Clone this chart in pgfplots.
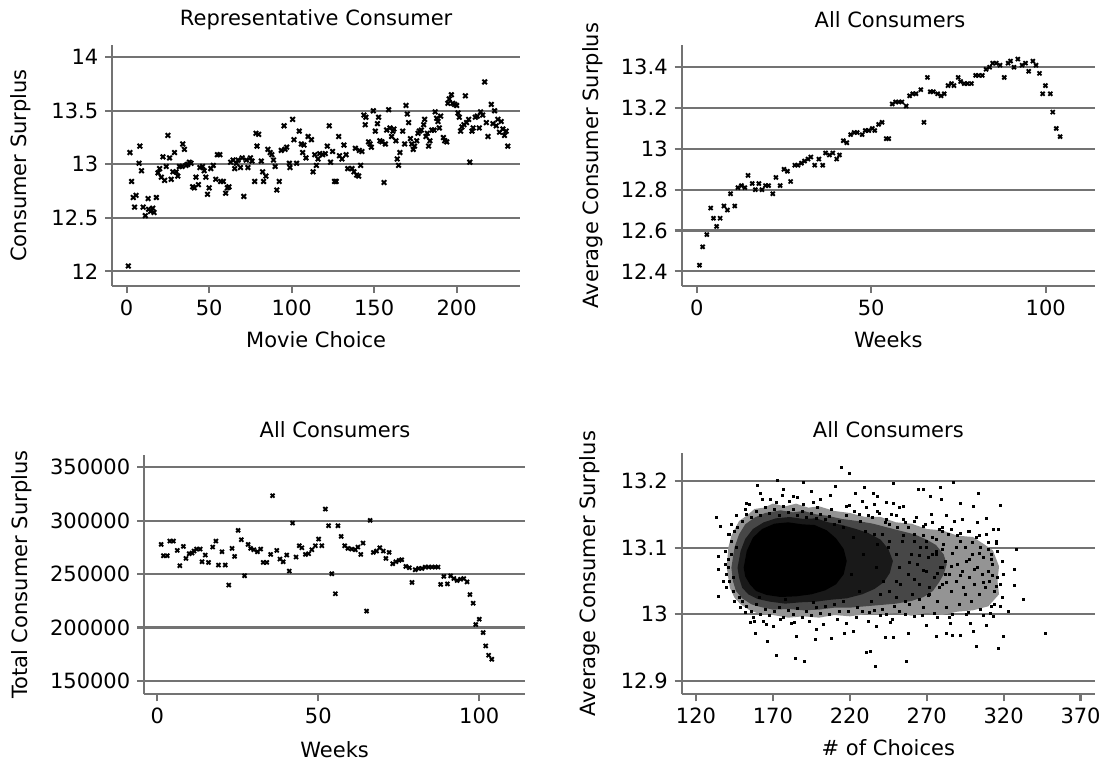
\documentclass[border=0pt]{standalone}
\usepackage{fontspec}
\setmainfont{DejaVu Sans}
\usepackage{pgfplots}
\pgfplotsset{compat=1.18}
\definecolor{axgray}{gray}{0.45}
\pgfplotsset{
  stata/.style={
    scale only axis,
    axis x line*=bottom, axis y line*=left,
    axis line style={-, axgray, line width=1.1pt},
    ymajorgrids, grid style={axgray, line width=1.1pt},
    tick align=outside, major tick length=3.5pt,
    major tick style={axgray, line width=1.1pt},
    scaled ticks=false,
    tick label style={font=\fontsize{10.5}{12}\selectfont, black},
    label style={font=\fontsize{10.5}{12}\selectfont},
    title style={font=\fontsize{10.5}{12}\selectfont, anchor=center, yshift=-6pt},
    xlabel style={anchor=center},
    ylabel style={anchor=center},
    anchor=south west,
  },
  xmk/.style={only marks, mark=x, mark size=1.6pt, mark options={line width=1pt, black}},
  xmks/.style={only marks, mark=x, mark size=1.4pt, mark options={line width=0.95pt, black}},
}
\begin{document}
\begin{tikzpicture}
\path[use as bounding box] (0,0) rectangle (554.5pt,383.5pt);
% Panel 1
\begin{axis}[stata, at={(56.15pt,240.5pt)}, width=203.85pt, height=120.5pt,
  xmin=-8.7, xmax=238.4, ymin=11.863, ymax=14.115,
  xtick={0,50,100,150,200}, xticklabels={0,50,100,150,200},
  ytick={12,12.5,13,13.5,14}, yticklabels={12,12.5,13,13.5,14},
  title={Representative Consumer}, title style={at={(axis description cs:0.5,1.104)}},
  xlabel={Movie Choice}, xlabel style={at={(axis description cs:0.5,-0.224)}},
  ylabel={Consumer Surplus}, ylabel style={at={(axis description cs:-0.225,0.5)}}]
\addplot[xmk] coordinates {
(1,12.05)(2,13.11)(3,12.84)(4,12.69)(4.8,12.60)(5.7,12.71)(7.5,13.01)(8,13.17)(9,12.94)(10,12.60)
(11.3,12.52)(13,12.68)(13.3,12.58)(14.5,12.56)(15.8,12.59)(16.6,12.55)(18,12.69)(19,12.92)(20,12.96)(21,12.88)
(22,13.07)(23,12.85)(24,12.98)(25,13.27)(26,13.06)(27,12.86)(28,12.93)(29,13.11)(30,12.93)(31,12.89)
(32,12.98)(33.5,12.98)(34,13.19)(35,13.14)(36,12.99)(37,13.00)(38,13.02)(39,13.01)(40,12.79)(41,12.78)
(42,12.88)(43.5,12.81)(44.4,12.97)(46,12.98)(47,12.94)(48,12.88)(49,12.72)(50,12.78)(51,12.96)(52.5,12.99)
(54,12.86)(55,13.09)(56.5,13.09)(57,12.84)(58.6,12.84)(60,12.73)(61,12.78)(62,12.79)(63,13.02)(64.5,13.04)
(65.5,12.96)(66.5,13.01)(67.5,13.04)(69,12.97)(70,13.06)(71,12.70)(72.5,13.04)(73.5,12.97)(75,13.06)(76,13.03)
(77.6,12.84)(78.4,13.29)(79,13.17)(80,13.28)(81.6,13.03)(82.4,12.93)(83,12.84)(84.4,12.89)(85.6,13.14)(87,13.11)
(88,13.09)(89,13.04)(90,12.98)(91,12.76)(92.5,12.84)(93.7,13.13)(95.4,13.36)(96,13.14)(97,13.16)(98.6,13.01)
(99,12.97)(100.6,13.42)(101.4,13.23)(103,13.01)(104.6,13.31)(105.9,13.19)(106.7,13.11)(107.5,13.18)(108.7,13.06)(110,13.26)
(112,13.23)(113,12.93)(114,13.09)(115,12.99)(116,13.05)(117,13.10)(118.8,13.09)(120.4,13.10)(121.6,13.17)(122.8,13.36)
(123.6,13.02)(124.8,13.12)(126,12.84)(127,12.84)(128.5,13.26)(129,13.08)(130.5,13.05)(131.7,13.18)(133,13.09)(134,12.96)
(136.6,12.96)(137.8,12.93)(138.6,13.15)(139.4,12.90)(140.6,12.89)(141,13.13)(141.8,12.99)(142.6,13.12)(143.8,13.46)(144.6,13.37)
(145,13.44)(146.6,13.21)(147.5,13.19)(148.3,13.16)(149.5,13.50)(150.7,13.31)(152,13.38)(152.7,13.44)(153.5,13.22)(154.7,13.21)
(156,12.83)(156.8,13.19)(157.6,13.32)(158.8,13.51)(159.6,13.34)(160.6,13.26)(161.4,13.31)(162,13.33)(163.2,13.22)(164,13.05)
(164.8,12.99)(165.6,13.11)(167.3,13.31)(168.5,13.19)(169.3,13.55)(170.1,13.47)(170.9,13.39)(172,13.24)(172.8,13.19)(173.7,13.14)
(174.5,13.17)(175.8,13.22)(176.6,13.29)(177.4,13.31)(178.6,13.32)(180,13.37)(180.6,13.42)(181.4,13.26)(182.2,13.29)(183,13.17)
(183.8,13.22)(185,13.32)(186.3,13.32)(187,13.49)(187.9,13.43)(188.7,13.40)(189.5,13.34)(190.3,13.45)(192,13.25)(192.8,13.22)
(194,13.21)(194.7,13.57)(195.5,13.61)(196.8,13.65)(197.6,13.57)(198.8,13.56)(200,13.55)(200.8,13.48)(201.6,13.44)(202.4,13.31)
(203.2,13.35)(204.4,13.37)(205.3,13.64)(206,13.39)(207.3,13.42)(208,13.02)(209.3,13.31)(210,13.34)(211.3,13.44)(212.5,13.45)
(213.7,13.34)(214.5,13.49)(215.8,13.46)(217,13.77)(218,13.39)(219,13.26)(221,13.56)(222,13.38)(223,13.50)(224,13.36)
(225,13.42)(226,13.30)(227,13.40)(228,13.33)(229,13.27)(230,13.31)(231,13.17)
};
\end{axis}
% Panel 2
\begin{axis}[stata, at={(340.85pt,240.5pt)}, width=206.65pt, height=120.5pt,
  xmin=-4.3, xmax=114.1, ymin=12.328, ymax=13.509,
  xtick={0,50,100}, xticklabels={0,50,100},
  ytick={12.4,12.6,12.8,13,13.2,13.4}, yticklabels={12.4,12.6,12.8,13,13.2,13.4},
  title={All Consumers}, title style={at={(axis description cs:0.504,1.104)}},
  xlabel={Weeks}, xlabel style={at={(axis description cs:0.5,-0.224)}},
  ylabel={Average Consumer Surplus}, ylabel style={at={(axis description cs:-0.2146,0.5)}}]
\addplot[xmks] coordinates {
(0.8,12.43)(1.7,12.52)(2.9,12.58)(4,12.71)(4.8,12.66)(5.7,12.62)(6.7,12.66)(7.8,12.72)(8.8,12.70)(9.7,12.78)
(10.9,12.72)(11.8,12.81)(12.8,12.82)(13.8,12.81)(14.7,12.87)(15.9,12.83)(16.8,12.80)(17.8,12.83)(18.7,12.80)(19.7,12.82)
(20.6,12.82)(21.8,12.78)(22.7,12.86)(23.9,12.82)(25,12.90)(26,12.89)(26.9,12.84)(28.1,12.92)(29,12.92)(30,12.93)
(30.9,12.94)(31.9,12.95)(32.7,12.96)(33.8,12.92)(35,12.95)(36.1,12.92)(36.9,12.98)(38,12.97)(39,12.98)(40.1,12.95)
(40.9,12.97)(42,13.04)(43,13.03)(44.1,13.07)(45.1,13.08)(46,13.08)(47.4,13.07)(48.3,13.09)(49.3,13.09)(50.3,13.10)
(51,13.09)(52.1,13.12)(53.1,13.13)(54.3,13.05)(55,13.05)(56,13.22)(57,13.23)(57.9,13.23)(58.8,13.23)(60,13.21)
(61,13.26)(61.9,13.27)(62.8,13.27)(64.2,13.29)(65.1,13.13)(66.1,13.35)(66.9,13.28)(67.8,13.28)(69,13.27)(70,13.26)
(70.9,13.27)(72,13.31)(73,13.32)(73.7,13.31)(74.9,13.35)(75.6,13.33)(76.6,13.32)(77.6,13.32)(78.7,13.32)(79.9,13.36)
(80.8,13.36)(81.8,13.36)(82.9,13.39)(83.9,13.40)(84.8,13.42)(85.8,13.42)(86.9,13.41)(88.1,13.35)(89.2,13.42)(89.9,13.43)
(90.9,13.40)(92,13.44)(93.2,13.41)(94.2,13.42)(95.1,13.38)(96.3,13.43)(97.2,13.41)(98.2,13.37)(99.1,13.27)(99.9,13.31)
(101.3,13.27)(102,13.18)(103,13.10)(104.1,13.06)
};
\end{axis}
% Panel 3
\begin{axis}[stata, at={(72.15pt,36.35pt)}, width=190.35pt, height=119.65pt,
  xmin=-4.04, xmax=114.2, ymin=137550, ymax=361510,
  xtick={0,50,100}, xticklabels={0,50,100},
  ytick={150000,200000,250000,300000,350000}, yticklabels={150000,200000,250000,300000,350000},
  title={All Consumers}, title style={at={(axis description cs:0.501,1.1045)}},
  xlabel={Weeks}, xlabel style={at={(axis description cs:0.5,-0.233)}},
  ylabel={Total Consumer Surplus}, ylabel style={at={(axis description cs:-0.3213,0.5)}}]
\addplot[xmks] coordinates {
(1.2,277840)(1.9,267230)(3.1,267230)(3.9,280960)(5,280960)(6.2,272220)(7,257870)(8.1,275970)(8.9,264730)(9.9,269100)
(10.8,269730)(11.4,271600)(12.2,273470)(13.3,273470)(13.9,261610)(14.9,267850)(15.9,260990)(17.2,275340)(18.2,280960)(19,258490)
(20.1,270980)(21.1,258490)(22.2,239760)(23.2,274100)(24,266600)(25.1,290950)(26.1,282210)(27.1,248500)(28.2,277840)(29,274100)
(30,272850)(31.1,270980)(32.1,273470)(32.9,260990)(34,260990)(35.2,268480)(35.8,323410)(37.1,272220)(38.1,264110)(39.1,261610)
(40.2,267850)(41,252870)(42,297820)(43.1,265980)(44.1,276590)(44.9,274720)(46,268480)(47,269100)(48,272850)(49.1,276590)
(50.1,282830)(51.1,276590)(52.2,310920)(53.2,295320)(54.2,250380)(55.3,231650)(56.1,295320)(57.1,285330)(58.2,276590)(59.2,274100)
(60.4,273470)(61.5,272850)(62.3,275340)(63.2,268480)(63.9,279090)(65,215420)(66.1,300310)(67.1,270350)(68.1,271600)(69.1,274720)
(70.2,271600)(71,264730)(72,270350)(73.1,259740)(74.1,261610)(75.1,262860)(75.9,263480)(77.2,257240)(78.3,256000)(79.1,242260)
(80.1,254120)(81.2,255370)(82.2,255370)(83.2,256620)(84.3,256620)(85.3,256620)(86.3,256620)(87.2,256620)(88,240390)(89,247880)
(90.1,240890)(91.1,248380)(92.1,245890)(93.1,244010)(94.2,245260)(95.2,245890)(96.2,242760)(97.1,230910)(98.1,222790)(98.9,202820)
(100,207810)(101.2,195330)(102,182840)(102.9,174100)(103.9,170360)
};
\end{axis}
% Panel 4
\begin{axis}[stata, at={(340.85pt,36.35pt)}, width=206.65pt, height=120.65pt,
  xmin=110.7, xmax=379.4, ymin=12.88, ymax=13.242,
  xtick={120,170,220,270,320,370}, xticklabels={120,170,220,270,320,370},
  ytick={12.9,13,13.1,13.2}, yticklabels={12.9,13,13.1,13.2},
  title={All Consumers}, title style={at={(axis description cs:0.5,1.0953)}},
  xlabel={\# of Choices}, xlabel style={at={(axis description cs:0.5,-0.2225)}},
  ylabel={Average Consumer Surplus}, ylabel style={at={(axis description cs:-0.2219,0.5)}}]
% density envelopes of the point cloud (outer to inner)
\addplot[draw=none, fill=black!42] coordinates {
(140,13.07)(141,13.1)(143,13.118)(148,13.14)(153,13.148)(158,13.158)(164,13.16)(170,13.166)(178,13.162)(185,13.166)
(193,13.16)(200,13.162)(210,13.155)(220,13.152)(230,13.146)(240,13.146)(250,13.138)(260,13.136)(270,13.128)(280,13.126)
(290,13.118)(300,13.116)(308,13.104)(313,13.096)(317,13.072)(316,13.05)(317,13.03)(310,13.012)(300,13.006)(290,13.004)
(280,12.999)(270,13.002)(260,12.998)(250,13.002)(240,13.0)(230,13.0)(220,12.997)(210,12.999)(200,12.995)(190,12.997)
(180,12.995)(170,12.999)(162,13.0)(155,13.006)(149,13.015)(145,13.025)(142,13.04)};
\addplot[draw=none, fill=black!72] coordinates {
(143,13.07)(145,13.1)(148,13.12)(152,13.135)(158,13.145)(165,13.152)(175,13.156)(183,13.153)(190,13.155)(198,13.15)
(205,13.148)(215,13.143)(225,13.14)(235,13.136)(245,13.13)(255,13.124)(262,13.12)(270,13.112)(276,13.104)(281,13.09)
(283,13.075)(281,13.06)(278,13.048)(274,13.035)(268,13.026)(260,13.02)(250,13.016)(240,13.014)(230,13.012)(220,13.01)
(210,13.01)(200,13.007)(190,13.006)(180,13.008)(170,13.007)(162,13.011)(156,13.015)(150,13.024)(146,13.035)(144,13.05)};
\addplot[draw=none, fill=black!90] coordinates {
(147,13.07)(149,13.095)(152,13.113)(157,13.128)(164,13.138)(172,13.144)(181,13.146)(190,13.143)(198,13.144)(206,13.138)
(215,13.134)(224,13.128)(232,13.122)(240,13.112)(245,13.098)(248,13.08)(246,13.062)(242,13.048)(236,13.038)(228,13.03)
(218,13.024)(208,13.022)(198,13.019)(188,13.018)(178,13.016)(168,13.019)(160,13.023)(154,13.03)(150,13.04)(148,13.055)};
\addplot[draw=none, fill=black] coordinates {
(151,13.07)(153,13.095)(157,13.115)(163,13.128)(171,13.136)(180,13.138)(189,13.135)(197,13.134)(205,13.126)(211,13.114)
(216,13.098)(218,13.08)(216,13.06)(211,13.045)(204,13.036)(195,13.03)(185,13.027)(175,13.026)(166,13.029)(159,13.035)
(155,13.045)(152,13.057)};
\addplot[only marks, mark=square*, mark size=0.5pt, black] coordinates {
(214.3,13.220)(219.5,13.211)(172.9,13.201)(189.8,13.198)(248.3,13.196)(287.3,13.198)(159.9,13.193)(229.7,13.191)(264.6,13.188)(278.6,13.191)
(303.6,13.181)(133.4,13.146)(136,13.132)(134.5,13.087)(134.7,13.067)(134.5,13.027)(328.5,13.097)(327.2,13.067)(326.8,13.044)(332.8,13.022)
(346.9,12.971)(317.7,13.164)(316.8,13.127)(319.8,12.967)(316.6,12.949)(302,12.952)(172.5,12.938)(184.6,12.934)(190.7,12.929)(236.6,12.922)
(256.5,12.929)(231,12.943)(233.6,12.944)(158.6,12.971)(166.4,12.960)(185.5,12.967)(197.6,12.962)(208,12.964)(216.2,12.971)(243.1,12.965)
(248.3,12.965)(258.3,12.972)(276.5,12.967)(291.6,12.969)(282.5,12.972)(286.9,12.969)(300.3,12.975)(155.1,12.988)(170.3,12.982)(182.2,12.987)
(198.5,12.977)(218,12.986)(222.3,12.974)(237.5,12.982)(246.1,12.988)(270,12.984)(285.2,12.986)(298.2,12.987)(309,12.983)(313.3,12.997)
(323.1,13.004)(235.3,13.182)(237.9,13.177)(248.3,13.167)(254.8,13.162)(267.8,13.187)(272.1,13.177)(279.7,13.172)(291.6,13.167)(300.3,13.162)
(309,13.144)(313.3,13.127)(315.5,13.107)(312.2,13.082)(315.5,13.042)(317.7,13.012)(311.2,13.002)
(153,13.167)(161.6,13.182)(168.1,13.172)(176.8,13.187)(183.3,13.177)(195.2,13.184)(200.6,13.172)(207.1,13.179)(210.4,13.192)(223.4,13.182)(218,13.162)
(141,13.07)(142,13.05)(143,13.09)(143,13.11)(144,13.035)(145,13.125)(145,13.02)(146,13.10)(141,13.082)(140,13.06)(142,13.12)(144,13.055)
(150,13.14)(153,13.15)(156,13.145)(159,13.155)(162,13.148)(165,13.16)(168,13.152)(171,13.158)(174,13.149)(177,13.162)
(180,13.153)(183,13.157)(186,13.148)(189,13.155)(192,13.146)(195,13.152)(198,13.144)(201,13.15)(204,13.142)(207,13.147)
(210,13.135)(213,13.14)(216,13.13)(155,13.165)(163,13.172)(172,13.168)(181,13.17)(190,13.165)(199,13.16)(208,13.158)
(152,13.158)(186,13.175)(176,13.178)(196,13.168)
(150,13.02)(153,13.012)(156,13.005)(159,13.015)(162,13.0)(165,13.008)(168,12.998)(171,13.004)(174,13.01)(177,12.995)
(180,13.006)(183,13.0)(186,13.009)(189,12.996)(192,13.005)(195,12.999)(198,13.01)(201,13.002)(204,13.012)(207,13.0)
(210,13.015)(213,13.005)(216,13.02)(158,12.99)(166,12.985)(175,12.992)(184,12.988)(194,12.99)(203,12.985)(212,12.993)
(161,13.025)(178,13.022)(196,13.018)(148,13.025)
(218,13.148)(221,13.06)(223,13.155)(225,13.01)(227,13.14)(229,13.09)(231,13.16)(233,13.003)(235,13.145)(237,13.07)
(239,13.152)(241,13.008)(243,13.138)(245,13.1)(247,13.15)(249,13.012)(251,13.13)(253,13.045)(255,13.142)(219,13.005)
(222,13.115)(226,13.035)(230,13.125)(234,13.02)(238,13.105)(242,13.05)(246,13.135)(250,13.025)(254,13.11)(220,13.163)
(228,13.17)(236,13.165)(244,13.168)(252,13.16)(224,12.995)(232,12.99)(240,12.998)(248,12.992)(256,13.0)(258,13.13)(259,13.015)
(258,13.06)(260,13.09)(261,13.03)(262,13.12)(264,13.075)(265,13.045)(266,13.1)(268,13.01)(269,13.135)(270,13.065)
(271,13.085)(272,13.04)(274,13.115)(275,13.055)(276,13.095)(277,13.02)(278,13.128)(279,13.07)(280,13.045)(281,13.105)
(282,13.08)(283,13.01)(284,13.12)(285,13.06)(286,13.035)(287,13.092)(288,13.14)(289,13.05)(290,13.075)(291,13.015)
(292,13.11)(293,13.065)(294,13.04)(295,13.1)(296,13.08)(297,13.125)(298,13.055)(299,13.02)(300,13.09)(301,13.045)
(302,13.115)(303,13.07)(304,13.03)(305,13.1)(306,13.06)(307,13.085)(308,13.04)(309,13.12)(310,13.065)(311,13.05)
(312,13.09)(313,13.075)(314,13.035)(315,13.11)(316,13.055)(263,13.145)(273,13.15)(283,13.148)(293,13.142)(303,13.138)
(267,12.998)(277,12.995)(287,13.0)(297,13.003)(307,12.998)(312,13.012)
(259,13.078)(262,13.052)(265,13.088)(268,13.066)(271,13.028)(274,13.09)(277,13.062)(280,13.098)(283,13.048)(286,13.072)
(289,13.1)(292,13.058)(295,13.03)(298,13.082)(301,13.068)(304,13.092)(307,13.048)(310,13.098)(313,13.058)(300,13.108)
(290,13.118)(280,13.125)(270,13.11)
(139,13.095)(140,13.04)(141,13.12)(143,13.135)(146,13.148)(149,13.01)(152,13.003)(157,12.995)(164,12.99)(147,13.13)(139,13.075)(138,13.05)
(226,13.15)(232,13.148)(238,13.155)(244,13.142)(250,13.148)(256,13.138)(262,13.14)(268,13.132)(274,13.138)(280,13.13)
(286,13.128)(292,13.122)(298,13.125)(304,13.118)(310,13.108)(316,13.095)(319,13.08)(320,13.06)(318,13.045)(319,13.025)
(314,13.015)(305,13.008)(296,13.0)(285,12.995)(275,13.002)(262,12.997)(252,13.005)(244,13.0)(236,13.006)(228,13.004)
(241,13.12)(246,13.11)(250,13.09)(252,13.07)(250,13.05)(246,13.035)(240,13.03)(236,13.12)(255,13.118)(262,13.11)
(270,13.1)(276,13.09)(280,13.07)(282,13.06)(278,13.04)(272,13.03)(265,13.022)(256,13.02)(276,13.112)(268,13.118)
};
\end{axis}
\end{tikzpicture}
\end{document}
